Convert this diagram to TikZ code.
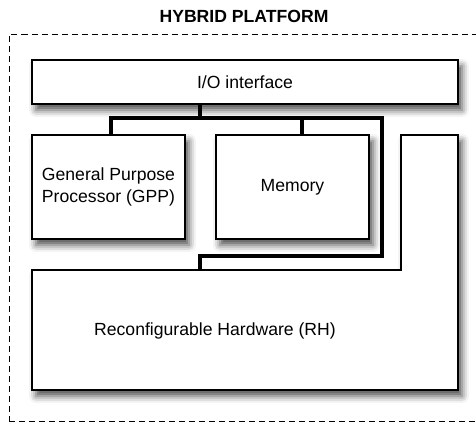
\documentclass[tikz,border=0pt]{standalone}
\usepackage{fontspec}
\setmainfont{Liberation Sans}
\usetikzlibrary{shadows.blur}
\tikzset{
  blk/.style={draw,line width=0.7pt,fill=white,
    blur shadow={shadow xshift=2pt,shadow yshift=-3pt,shadow blur radius=3.5pt,shadow opacity=70}},
  bus/.style={line width=2pt},
  frame/.style={line width=0.5pt,dash pattern=on 3pt off 2pt},
  txt/.style={font=\fontsize{8.8}{10.6}\selectfont,align=center}
}
\begin{document}
\begin{tikzpicture}[x=0.5pt,y=-0.5pt]
\useasboundingbox(0,0)rectangle(476,423);
\node[font=\bfseries\fontsize{8.8}{10}\selectfont](title)at(244,16){HYBRID PLATFORM};
\draw[frame](9,421.5)--(9,34)--(480,34);
\draw[frame](9,421.5)--(480,421.5);
% reconfigurable hardware
\draw[blk](32,270)--(401,270)--(401,135)--(458,135)--(458,390)--(32,390)--cycle;
\node[txt](rh)at(215,331){Reconfigurable Hardware (RH)};
% blocks
\node[blk,txt,minimum width=213pt,minimum height=22pt](io)at(245,82){I/O interface};
\node[blk,txt,minimum width=76.5pt,minimum height=52pt](gpp)at(108.5,187){General Purpose\\Processor (GPP)};
\node[blk,txt,minimum width=76.5pt,minimum height=52pt](mem)at(292.5,187){Memory};
% bus
\coordinate(b1)at(200,118);
\coordinate(b2)at(111,118);
\coordinate(b3)at(302,118);
\coordinate(b4)at(382,118);
\coordinate(b5)at(382,256);
\coordinate(b6)at(200,256);
\coordinate(b7)at(200,270);
\draw[bus](io.south-|b1)--(b1);
\draw[bus](gpp.north-|b2)--(b2)--(b4)--(b5)--(b6)--(b7);
\draw[bus](b3)--(mem.north-|b3);
\end{tikzpicture}
\end{document}
